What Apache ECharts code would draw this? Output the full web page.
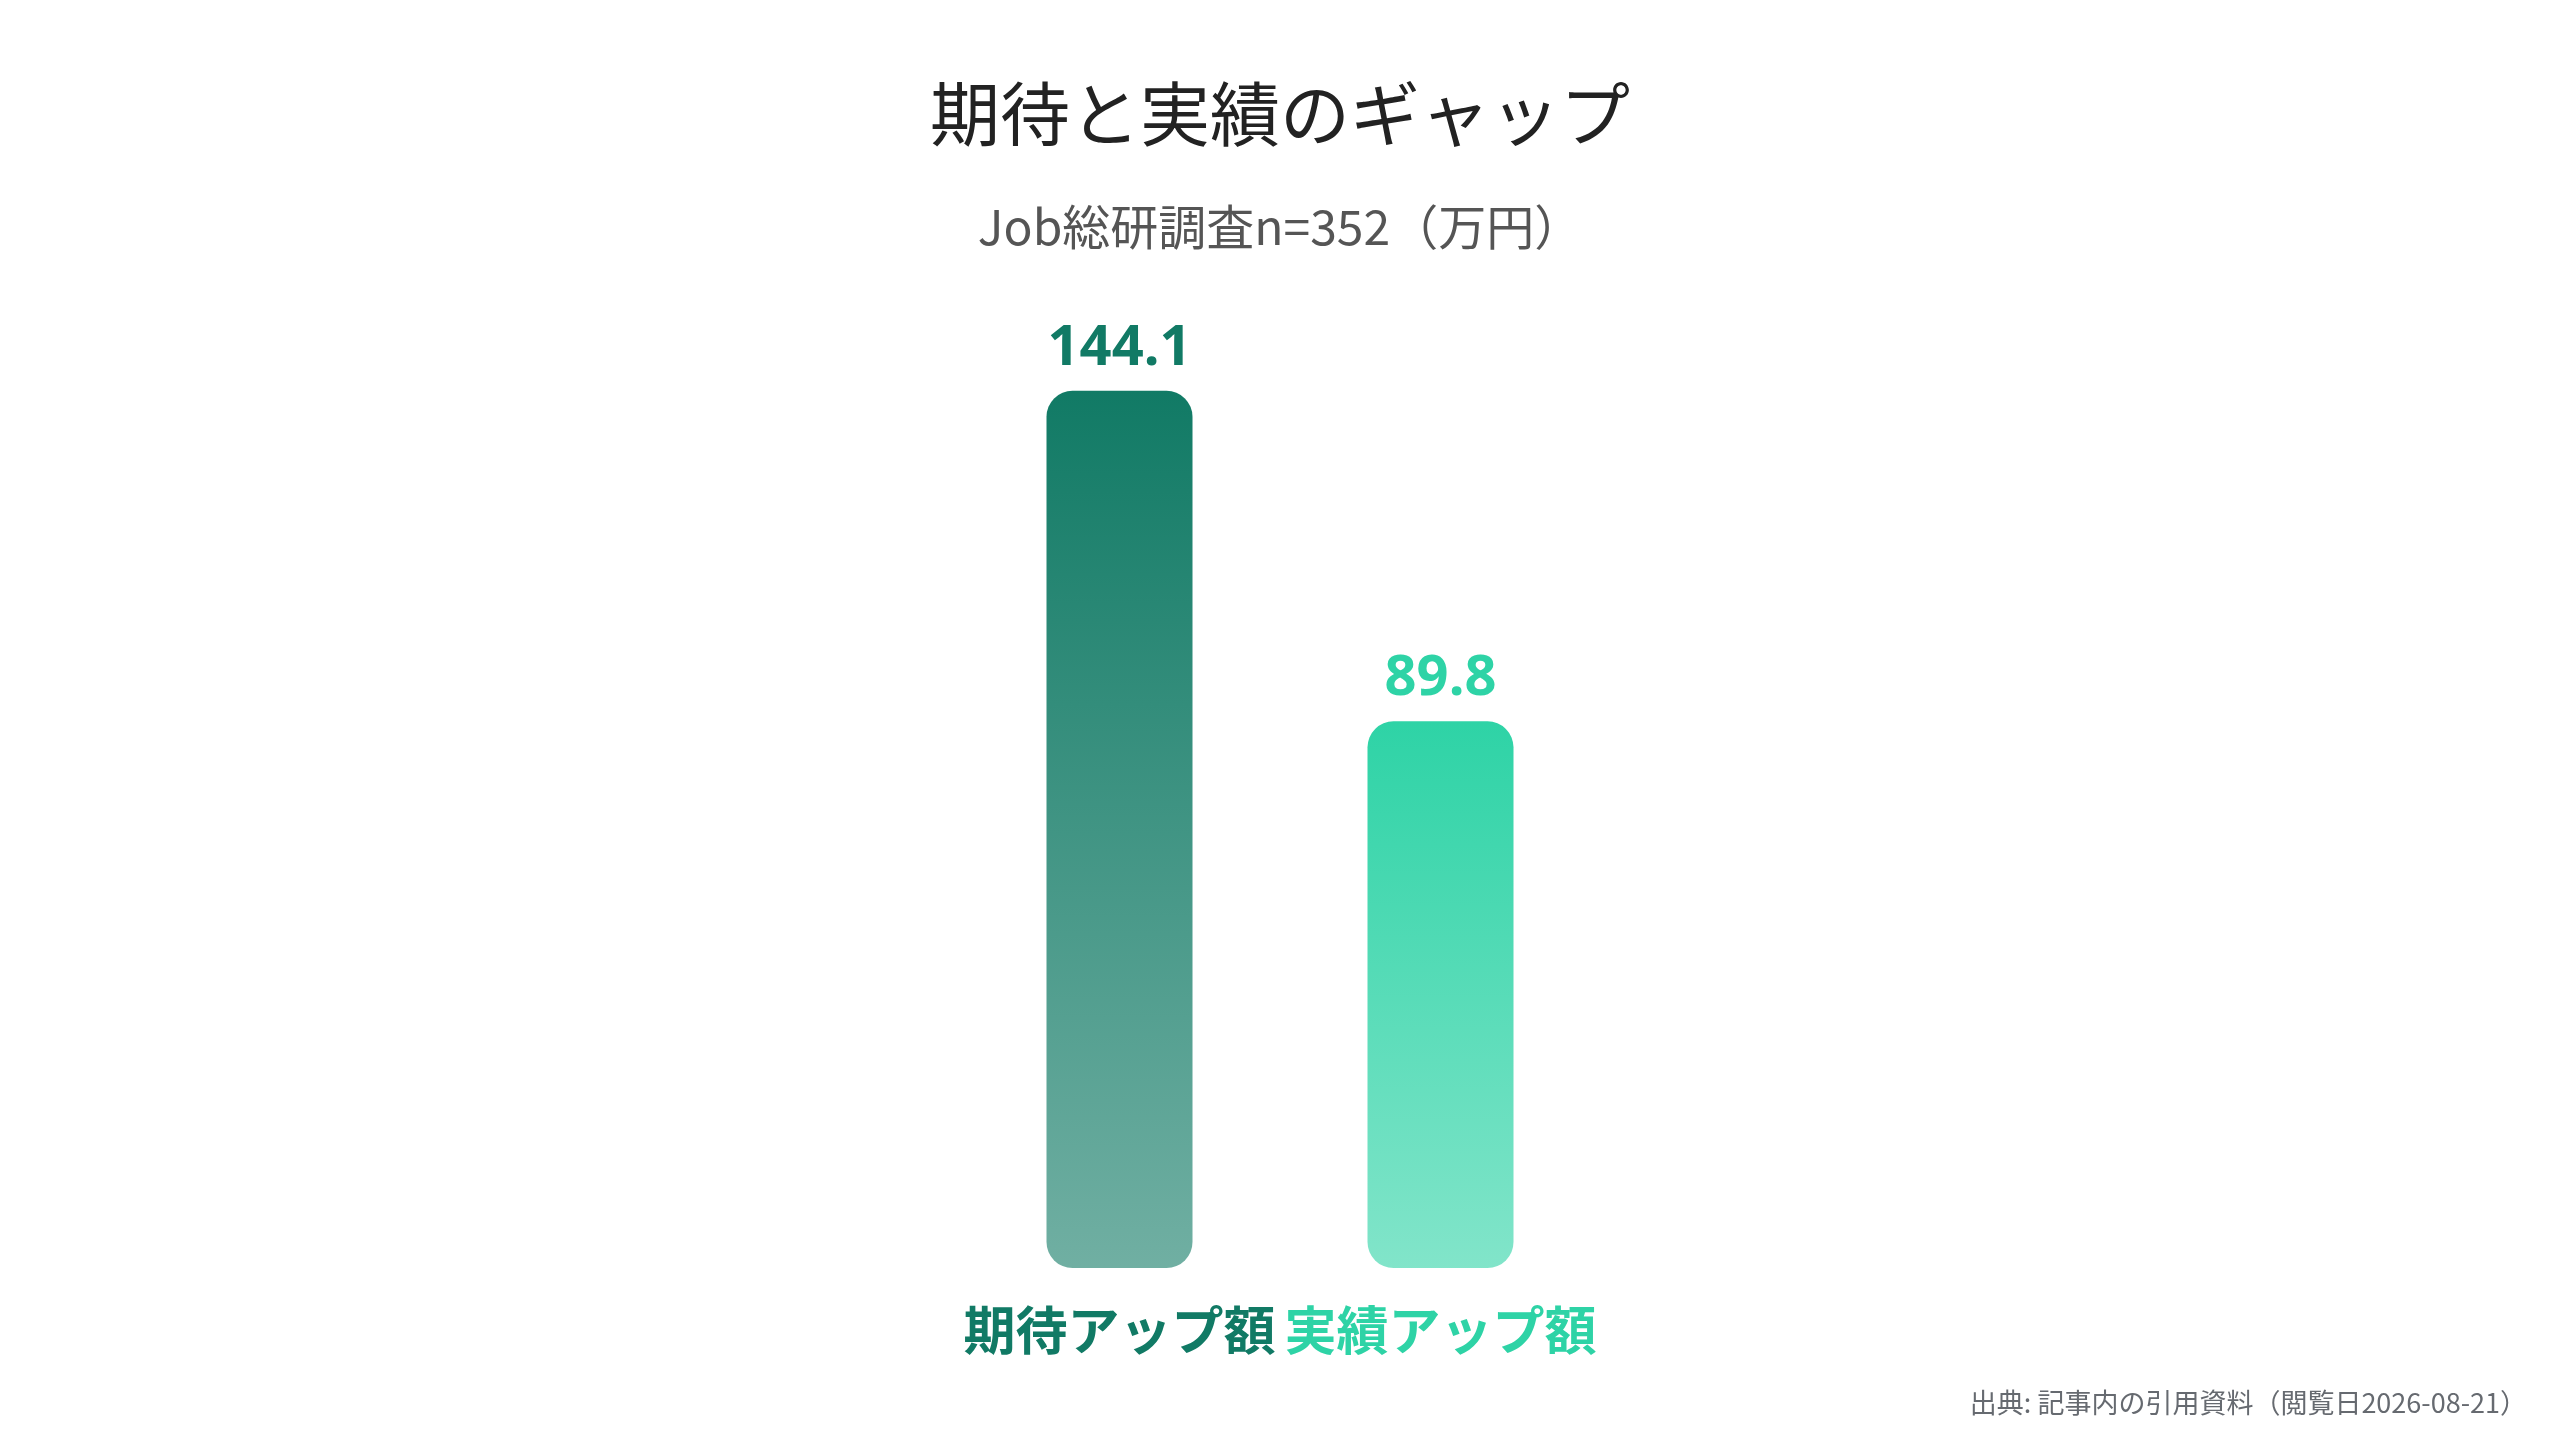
<!DOCTYPE html>
<html>
<head>
<meta charset="utf-8">
<title>期待と実績のギャップ</title>
<script src="https://cdn.jsdelivr.net/npm/echarts@6.0.0/dist/echarts.min.js"></script>
<style>
	html, body { margin: 0; padding: 0; background: #ffffff; }
	#chart { width: 2560px; height: 1440px; }
</style>
</head>
<body>
<div id="chart"></div>
<script>
var categories = ['期待アップ額', '実績アップ額'];
var values = [144.1, 89.8];
var palette = ['#117a65', '#2ed3a6'];

function fade(hex, alpha) {
	var r = parseInt(hex.slice(1, 3), 16);
	var g = parseInt(hex.slice(3, 5), 16);
	var b = parseInt(hex.slice(5, 7), 16);
	return 'rgba(' + r + ',' + g + ',' + b + ',' + alpha + ')';
}

var chart = echarts.init(document.getElementById('chart'));

var barData = values.map(function (v, i) {
	return {
		value: v,
		itemStyle: {
			color: new echarts.graphic.LinearGradient(0, 0, 0, 1, [
				{ offset: 0, color: palette[i] },
				{ offset: 1, color: fade(palette[i], 0.6) }
			])
		},
		label: { color: palette[i] }
	};
});

var option = {
	backgroundColor: '#ffffff',
	title: [
		{
			text: '期待と実績のギャップ',
			left: 'center',
			top: 74,
			textStyle: {
				fontFamily: 'Noto Sans CJK JP',
				fontSize: 70,
				fontWeight: 'normal',
				color: '#222222'
			}
		},
		{
			text: 'Job総研調査n=352（万円）',
			left: 'center',
			top: 198,
			textStyle: {
				fontFamily: 'Noto Sans CJK JP',
				fontSize: 48,
				fontWeight: 'normal',
				color: '#555555'
			}
		},
		{
			text: '出典: 記事内の引用資料（閲覧日2026-08-21）',
			right: 28,
			top: 1384,
			textStyle: {
				fontFamily: 'Noto Sans CJK JP',
				fontSize: 27,
				fontWeight: 'normal',
				color: '#666a70'
			}
		}
	],
	grid: {
		left: 959,
		right: 959,
		top: 294,
		bottom: 172
	},
	xAxis: {
		type: 'category',
		data: categories,
		axisLine: { show: false },
		axisTick: { show: false },
		axisLabel: {
			interval: 0,
			margin: 36,
			fontFamily: 'Noto Sans CJK JP',
			fontSize: 52,
			fontWeight: 'bold',
			color: function (value, index) {
				return palette[index];
			}
		}
	},
	yAxis: {
		type: 'value',
		min: 0,
		max: 160,
		show: false,
		splitLine: { show: false }
	},
	series: [
		{
			type: 'bar',
			data: barData,
			barWidth: 146,
			itemStyle: { borderRadius: 26 },
			label: {
				show: true,
				position: 'top',
				distance: 14,
				fontFamily: 'Noto Sans',
				fontSize: 56,
				fontWeight: 'bold',
				formatter: function (p) {
					return p.value.toFixed(1);
				}
			}
		}
	]
};

chart.setOption(option);
</script>
</body>
</html>
